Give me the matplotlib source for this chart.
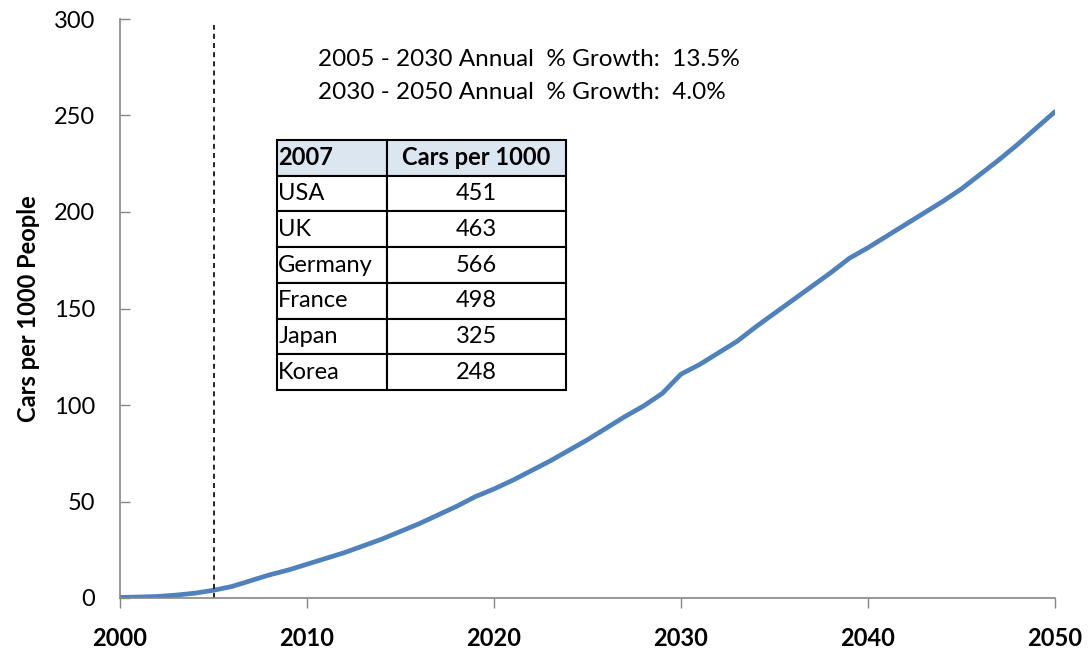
import matplotlib.pyplot as plt

plt.rcParams['font.family'] = ['Lato', 'DejaVu Sans']

years = list(range(2000, 2051))
cars_per_1000 = [0.3, 0.5, 0.8, 1.5, 2.5, 4.0, 6.0, 9.0, 12.0, 14.5,
                 17.5, 20.5, 23.5, 27.0, 30.5, 34.5, 38.5, 43.0, 47.5, 52.5,
                 56.5, 61.0, 66.0, 71.0, 76.5, 82.0, 88.0, 94.0, 99.5, 106.0,
                 116.0, 121.0, 127.0, 133.0, 140.5, 147.5, 154.5, 161.5, 168.5, 176.0,
                 181.5, 187.5, 193.5, 199.5, 205.5, 212.0, 219.5, 227.0, 235.0, 243.5,
                 252.0]

table_countries = ['USA', 'UK', 'Germany', 'France', 'Japan', 'Korea']
table_values = ['451', '463', '566', '498', '325', '248']

growth_notes = ['2005 - 2030 Annual  % Growth:  13.5%',
                '2030 - 2050 Annual  % Growth:  4.0%']

fig = plt.figure(figsize=(10.89, 6.55), dpi=100)
ax = fig.add_axes([120 / 1089, 57 / 655, 935 / 1089, 579 / 655])

ax.plot(years, cars_per_1000, color='#4F81BD', linewidth=3.4,
        solid_capstyle='round', solid_joinstyle='round')
ax.plot([2005, 2005], [0, 297], color='black', linestyle=(0, (3, 2.5)), linewidth=1.2)

ax.set_xlim(2000, 2050)
ax.set_ylim(0, 300)
ax.set_xticks([2000, 2010, 2020, 2030, 2040, 2050])
ax.set_yticks([0, 50, 100, 150, 200, 250, 300])
for lab in ax.get_xticklabels():
    lab.set_fontweight('bold')
ax.tick_params(axis='x', direction='out', length=7, width=1, color='#868686',
               labelsize=17, pad=14)
ax.tick_params(axis='y', direction='in', length=7, width=1, color='#868686',
               labelsize=17, pad=18)
ax.set_ylabel('Cars per 1000 People', fontsize=17, fontweight='bold', labelpad=10)

for side in ['top', 'right']:
    ax.spines[side].set_visible(False)
for side in ['left', 'bottom']:
    ax.spines[side].set_color('#868686')
    ax.spines[side].set_linewidth(1.2)

ax.text(2010.6, 279, growth_notes[0], fontsize=17.5, va='center')
ax.text(2010.6, 262, growth_notes[1], fontsize=17.5, va='center')

cells = [[c, v] for c, v in zip(table_countries, table_values)]
tbl = ax.table(cellText=cells, colLabels=['2007', 'Cars per 1000'],
               colWidths=[0.38, 0.62], bbox=[0.168, 0.359, 0.309, 0.432])
tbl.auto_set_font_size(False)
for (r, c), cell in tbl.get_celld().items():
    cell.set_linewidth(1.5)
    cell.set_edgecolor('black')
    cell.get_text().set_fontsize(17)
    if c == 0:
        cell.get_text().set_ha('left')
        cell.PAD = 0.01
    else:
        cell.get_text().set_ha('center')
    if r == 0:
        cell.set_facecolor('#DCE6F1')
        cell.get_text().set_fontweight('bold')

fig.savefig('out.png', dpi=100)
